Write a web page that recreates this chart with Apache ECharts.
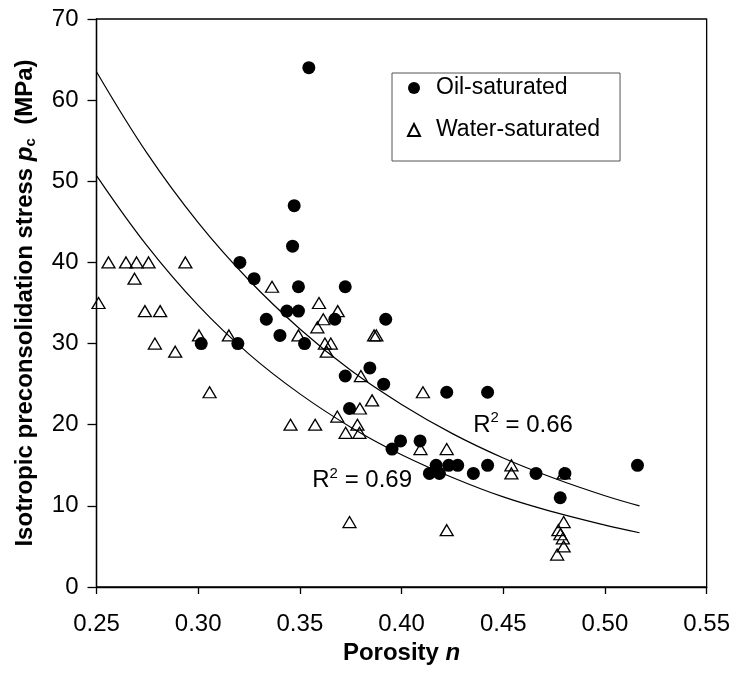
<!DOCTYPE html>
<html>
<head>
<meta charset="utf-8">
<script src="https://cdn.jsdelivr.net/npm/echarts@6/dist/echarts.min.js"></script>
<style>
html,body{margin:0;padding:0;background:#fff;}
#chart{width:733px;height:679px;}
</style>
</head>
<body>
<div id="chart"></div>
<script>
// ---- data ----
const oilX = [0.3544,0.3472,0.3464,0.3205,0.3275,0.3493,0.3723,0.3436,0.3493,0.3335,0.3672,0.3922,0.3402,0.3015,0.3195,0.3523,0.3844,0.3723,0.3912,0.4222,0.4423,0.3744,0.3995,0.4091,0.3953,0.4170,0.4232,0.4276,0.4423,0.4137,0.4186,0.4353,0.4661,0.4803,0.4780,0.5160];
const oilY = [64,47,42,40,38,37,37,34,34,33,33,33,31,30,30,30,27,26,25,24,24,22,18,18,17,15,15,15,15,14,14,14,14,14,11,15];

const waterX = [0.2510,0.2559,0.2645,0.2697,0.2756,0.2937,0.2687,0.2738,0.2813,0.2787,0.2887,0.3004,0.3151,0.3056,0.3363,0.3594,0.3686,0.3615,0.3586,0.3493,0.3865,0.3876,0.3623,0.3652,0.3632,0.3800,0.3855,0.3795,0.3684,0.3454,0.3575,0.3783,0.3725,0.3793,0.3744,0.4105,0.4093,0.4222,0.4222,0.4540,0.4540,0.4797,0.4797,0.4771,0.4781,0.4793,0.4797,0.4765];
const waterY = [35,40,40,40,40,40,38,34,34,30,29,31,31,24,37,35,34,33,32,31,31,31,30,30,29,26,23,22,21,20,20,20,19,19,8,24,17,17,7,15,14,14,8,7,6.5,6,5,4];

// trend curves at these porosities
const fitX = [0.25,0.275,0.30,0.325,0.35,0.375,0.40,0.425,0.45,0.475,0.50,0.517];
const oilFitY = [63.5,53.4,44.9,37.8,31.8,26.7,22.5,18.9,15.9,13.4,11.25,10.0];
const waterFitY = [50.7,42.0,34.7,28.7,23.8,19.7,16.3,13.5,11.1,9.22,7.63,6.69];

const xTicks = [0.25,0.30,0.35,0.40,0.45,0.50,0.55];
const yTicks = [0,10,20,30,40,50,60,70];

const seriesNames = ['Oil-saturated','Water-saturated'];
const r2Labels = ['0.66','0.69'];
const r2Pos = [[0.4352,19.97],[0.3561,13.1]];

// ---- chart ----
const FONT = '"Liberation Sans", Arial, sans-serif';
const zip = (a,b) => a.map((v,i)=>[v,b[i]]);
const chart = echarts.init(document.getElementById('chart'));

const option = {
  animation:false,
  backgroundColor:'#fff',
  textStyle:{fontFamily:FONT},
  grid:{left:96.5,right:24.7,top:19,bottom:92,show:true,borderColor:'#000',borderWidth:1.3,backgroundColor:'transparent'},
  xAxis:{
    type:'value',min:xTicks[0],max:xTicks[xTicks.length-1],interval:0.05,
    axisLine:{lineStyle:{color:'#000',width:1.3}},
    axisTick:{show:true,length:7,lineStyle:{color:'#000',width:1.3}},
    splitLine:{show:false},
    axisLabel:{color:'#000',fontSize:24,fontFamily:FONT,margin:25,formatter:v=>v.toFixed(2),showMaxLabel:true},
    name:'Porosity {it|n}',nameLocation:'middle',nameGap:52,
    nameTextStyle:{color:'#000',fontSize:24,fontWeight:'bold',fontFamily:FONT,
      rich:{it:{fontSize:24,fontWeight:'bold',fontStyle:'italic',fontFamily:FONT,color:'#000'}}}
  },
  yAxis:{
    type:'value',min:yTicks[0],max:yTicks[yTicks.length-1],interval:10,
    axisLine:{lineStyle:{color:'#000',width:1.3}},
    axisTick:{show:true,length:9,lineStyle:{color:'#000',width:1.3}},
    splitLine:{show:false},
    axisLabel:{color:'#000',fontSize:24,fontFamily:FONT,margin:18},
    name:'Isotropic preconsolidation stress {it|p}{sub|c}  (MPa)',nameLocation:'middle',nameGap:58,
    nameTextStyle:{color:'#000',fontSize:24,fontWeight:'bold',fontFamily:FONT,
      rich:{
        it:{fontSize:24,fontWeight:'bold',fontStyle:'italic',fontFamily:FONT,color:'#000'},
        sub:{fontSize:15,fontWeight:'bold',fontFamily:FONT,color:'#000',padding:[12,0,0,0]}
      }}
  },
  legend:{
    data:seriesNames,
    orient:'vertical',left:392,top:73,
    padding:[3,20,19,15],
    itemGap:18,itemWidth:12,itemHeight:12,
    borderColor:'#555',borderWidth:1,backgroundColor:'#fff',
    textStyle:{color:'#000',fontSize:23,fontFamily:FONT,lineHeight:24,padding:[0,0,0,11]}
  },
  series:[
    {type:'line',data:zip(fitX,oilFitY),smooth:0.4,showSymbol:false,symbol:'none',
     lineStyle:{color:'#000',width:1.2},silent:true,z:1},
    {type:'line',data:zip(fitX,waterFitY),smooth:0.4,showSymbol:false,symbol:'none',
     lineStyle:{color:'#000',width:1.2},silent:true,z:1},
    {name:seriesNames[1],type:'scatter',data:zip(waterX,waterY),symbol:'triangle',symbolSize:[13,11],
     itemStyle:{color:'rgba(255,255,255,0)',borderColor:'#000',borderWidth:1.3,opacity:1},z:2},
    {name:seriesNames[0],type:'scatter',data:zip(oilX,oilY),symbol:'circle',symbolSize:13,
     itemStyle:{color:'#000',opacity:1},z:3}
  ]
};
chart.setOption(option);

const graphics = r2Labels.map((t,i)=>{
  const p = chart.convertToPixel({gridIndex:0}, r2Pos[i]);
  return {type:'text',x:p[0],y:p[1],z:10,
    style:{text:'R{s|2} = '+t,fill:'#000',fontSize:24,fontFamily:FONT,verticalAlign:'middle',align:'left',
      rich:{s:{fontSize:15,fontFamily:FONT,fill:'#000',padding:[0,0,14,0]}}}};
});
chart.setOption({graphic:graphics});
</script>
</body>
</html>
